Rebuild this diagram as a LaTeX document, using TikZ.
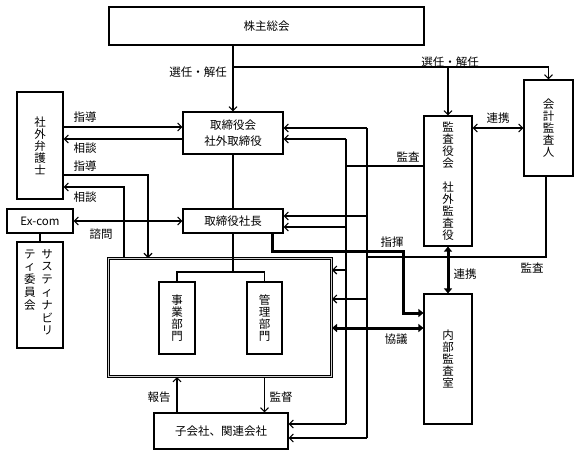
\documentclass[tikz,border=0pt]{standalone}
\usepackage{fontspec}
\setmainfont{Noto Sans CJK JP}
\usetikzlibrary{arrows.meta}
\begin{document}
\begin{tikzpicture}[x=1pt,y=-1pt,
  font=\fontsize{11.5}{12}\selectfont,
  box/.style={draw, line width=1.1pt, inner sep=0pt, align=center},
  ln/.style={line width=1.1pt},
  arr/.style={ln, -{Straight Barb[length=4pt,width=8pt]}},
  darr/.style={ln, {Straight Barb[length=4pt,width=8pt]}-{Straight Barb[length=4pt,width=8pt]}},
  thk/.style={line width=3pt, -{Triangle[length=5pt,width=8pt]}},
  thkd/.style={line width=3pt, {Triangle[length=5pt,width=8pt]}-{Triangle[length=5pt,width=8pt]}},
  lbl/.style={inner sep=0pt}]
\useasboundingbox (0,0) rectangle (580,456);
% boxes
\node[box, minimum width=315pt, minimum height=38pt] (kabu) at (266.5,26) {株主総会};
\node[box, minimum width=100pt, minimum height=42pt, font=\fontsize{11.5}{16}\selectfont] (tori) at (233,133) {取締役会\\社外取締役};
\node[box, minimum width=100pt, minimum height=24pt] (shacho) at (233,221) {取締役社長};
\node[box, minimum width=48pt, minimum height=130pt] (kansa) at (448,181) {監\\査\\役\\会\\[12pt]社\\外\\監\\査\\役};
\node[box, minimum width=49pt, minimum height=96pt] (kaikei) at (548.5,128) {会\\計\\監\\査\\人};
\node[box, minimum width=48pt, minimum height=130pt] (naibu) at (448,359) {内\\部\\監\\査\\室};
\node[draw, line width=1pt, double=gray!35, double distance=1.2pt, inner sep=0pt, minimum width=223pt, minimum height=118pt] (big) at (220,317.5) {};
\node[box, minimum width=36pt, minimum height=72pt] (jigyo) at (177,318) {事\\業\\部\\門};
\node[box, minimum width=35pt, minimum height=72pt] (kanri) at (264.5,318) {管\\理\\部\\門};
\node[box, minimum width=134pt, minimum height=36pt] (kogaisha) at (221,431) {子会社、関連会社};
\node[box, minimum width=46pt, minimum height=107pt] (bengo) at (40,145.5) {社\\外\\弁\\護\\士};
\node[box, minimum width=66pt, minimum height=24pt] (excom) at (40,221) {Ex-com};
\node[box, minimum width=46pt, minimum height=106pt] (sust) at (40,295) {};
\node[lbl, anchor=north] (susttxt) at (38.5,249) {\begin{tabular}{@{}c@{\hspace{6pt}}c@{}}テ&サ\\ィ&ス\\委&テ\\員&ィ\\会&ナ\\&ビ\\&リ\end{tabular}};
% helper coordinates
\coordinate (sel) at (233,67);
\coordinate (h127) at (0,127);
\coordinate (h139) at (0,139);
\coordinate (c148) at (148,175);
\coordinate (c124) at (124,187);
\coordinate (t1) at (233,272);
\coordinate (b1t) at (346,139);
\coordinate (b1s) at (346,227);
\coordinate (b1g) at (346,270);
\coordinate (b1b) at (346,424);
\coordinate (b2t) at (367,128);
\coordinate (b2s) at (367,216);
\coordinate (b2g) at (367,299);
\coordinate (b2b) at (367,438);
\coordinate (b1k) at (346,166);
\coordinate (k1) at (546,257);
\coordinate (b2k) at (367,257);
\coordinate (s1) at (272,251);
\coordinate (s2) at (403,251);
\coordinate (s3) at (403,313);
\coordinate (h328) at (0,328);
% connectors
\draw[arr] (kabu.south -| tori.north) -- (tori.north);
\draw[arr] (sel) -| (kaikei.north);
\draw[arr] (kansa.north |- sel) -- (kansa.north);
\draw[darr] (kansa.east |- kaikei.west) -- (kaikei.west);
\draw[arr] (bengo.east |- h127) -- (tori.west |- h127);
\draw[arr] (tori.west |- h139) -- (bengo.east |- h139);
\draw[arr] (bengo.east |- c148) -- (c148) -- (c148 |- big.north);
\draw[arr] (c124 |- big.north) -- (c124) -- (bengo.east |- c124);
\draw[darr] (excom.east) -- (shacho.west);
\draw[ln] (excom.south) -- (sust.north);
\draw[ln] (tori.south) -- (shacho.north);
\draw[ln] (shacho.south) -- (t1);
\draw[ln] (jigyo.north) -- (jigyo.north |- t1) -- (kanri.north |- t1) -- (kanri.north);
\draw[arr] (kogaisha.north -| jigyo) -- (big.south -| jigyo);
\draw[arr] (big.south -| kanri) -- (kogaisha.north -| kanri);
% buses
\draw[ln] (b1t) -- (b1b);
\draw[ln] (b2t) -- (b2b);
\draw[arr] (b1t) -- (tori.east |- b1t);
\draw[arr] (b2t) -- (tori.east |- b2t);
\draw[arr] (b2s) -- (shacho.east |- b2s);
\draw[arr] (b1s) -- (shacho.east |- b1s);
\draw[arr] (b1g) -- (big.east |- b1g);
\draw[arr] (b2g) -- (big.east |- b2g);
\draw[arr] (b1b) -- (kogaisha.east |- b1b);
\draw[arr] (b2b) -- (kogaisha.east |- b2b);
\draw[ln] (kansa.west |- b1k) -- (b1k);
\draw[ln] (kaikei.south -| k1) -- (k1) -- (b2k);
% thick
\draw[thk] (shacho.south -| s1) -- (s1) -- (s2) -- (s3) -- (naibu.west |- s3);
\draw[thkd] (kansa.south) -- (naibu.north);
\draw[thkd] (big.east |- h328) -- (naibu.west |- h328);
% labels
\node[lbl] (l1) at (198,72) {選任・解任};
\node[lbl] (l2) at (450,62) {選任・解任};
\node[lbl] (l3) at (498,118) {連携};
\node[lbl] (l4) at (85,117) {指導};
\node[lbl] (l5) at (85,148) {相談};
\node[lbl] (l6) at (85,166) {指導};
\node[lbl] (l7) at (85,197) {相談};
\node[lbl] (l8) at (101,234) {諮問};
\node[lbl] (l9) at (408,157) {監査};
\node[lbl] (l10) at (392,242) {指揮};
\node[lbl] (l11) at (465,274) {連携};
\node[lbl] (l12) at (532,268) {監査};
\node[lbl] (l13) at (396,339) {協議};
\node[lbl] (l14) at (159,397) {報告};
\node[lbl] (l15) at (281,397) {監督};
\end{tikzpicture}
\end{document}
